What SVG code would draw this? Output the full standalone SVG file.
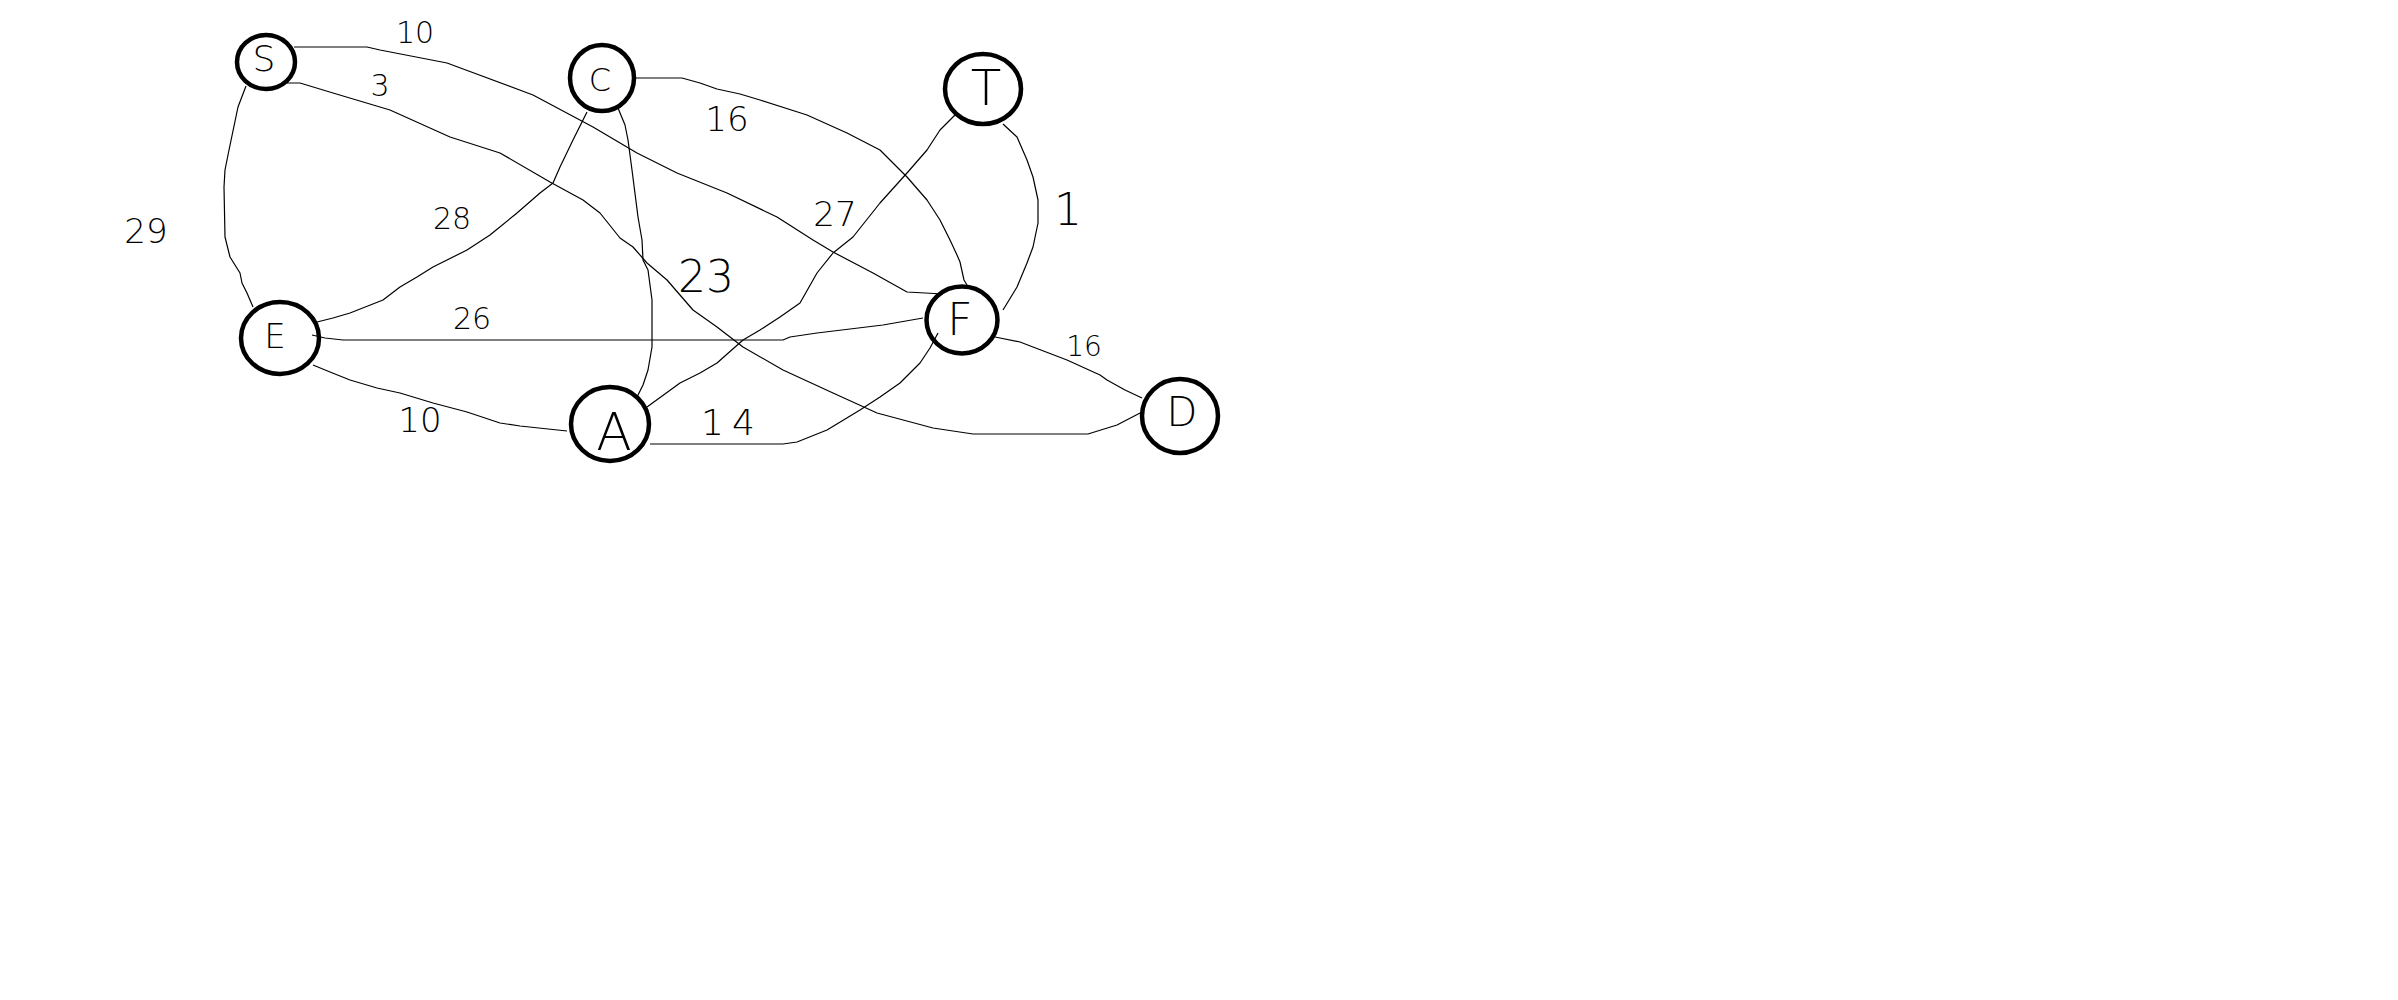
<svg xmlns="http://www.w3.org/2000/svg" width="2398" height="1000" viewBox="0 0 2398 1000">
<style>
.node{fill:none;stroke:#000;stroke-width:4.5}
.edge{fill:none;stroke:#000;stroke-width:1.2;stroke-linejoin:round}
.nl{font-family:"DejaVu Sans","Liberation Sans",sans-serif;font-weight:200;fill:#000;text-anchor:middle;dominant-baseline:central}
.el{font-family:"DejaVu Sans","Liberation Sans",sans-serif;font-weight:200;fill:#000;text-anchor:middle;dominant-baseline:central}
</style>
<rect width="2398" height="1000" fill="#fff"/>
<g id="connectors">
<polyline class="edge" points="294,47 367,47 380,50 447,63 533,95 593,127 637,153 677,173 727,193 777,217 813,240 833,252 873,273 907,292 943,294"/>
<polyline class="edge" points="287,83 300,83 333,93 390,110 450,137 500,153 550,182 583,200 600,213 620,238 633,247 647,263 667,280 693,310 717,327 743,347 783,370 833,393 877,413 933,428 973,434 1088,434 1117,425 1142,412"/>
<polyline class="edge" points="246,86 238,107 229,150 225,170 224,187 225,237 230,257 240,273 242,283 247,293 253,307"/>
<polyline class="edge" points="317,322 333,318 350,313 383,300 400,287 417,277 433,267 467,250 490,235 517,213 540,193 553,183 560,167 573,140 587,112"/>
<polyline class="edge" points="312,335 325,338 343,340 783,340 790,337 817,333 883,325 923,318"/>
<polyline class="edge" points="313,365 330,372 350,380 377,388 400,393 433,403 467,412 500,423 520,426 567,431"/>
<polyline class="edge" points="636,78 682,78 700,83 717,89 740,94 760,100 807,115 847,133 880,150 907,177 927,200 940,220 950,240 957,255 960,262 964,280 967,285"/>
<polyline class="edge" points="618,108 625,125 628,140 632,170 638,217 642,240 643,260 648,270 652,300 652,347 648,370 643,385 637,397"/>
<polyline class="edge" points="957,113 940,130 927,150 907,173 880,203 853,237 833,253 817,273 800,303 780,317 760,330 743,340 717,363 700,373 680,383 647,407"/>
<polyline class="edge" points="1003,124 1017,137 1027,160 1033,177 1038,200 1038,223 1033,247 1027,263 1017,287 1003,310"/>
<polyline class="edge" points="995,337 1020,342 1033,347 1067,360 1100,375 1107,380 1125,390 1142,398"/>
<polyline class="edge" points="938,333 930,348 920,363 900,383 880,397 860,410 827,430 797,442 783,444 650,444"/>
<text class="el" x="415" y="32" font-size="30">10</text>
<text class="el" x="380" y="85" font-size="30">3</text>
<text class="el" x="146" y="231" font-size="34">29</text>
<text class="el" x="452" y="218" font-size="30">28</text>
<text class="el" x="727" y="119" font-size="34">16</text>
<text class="el" x="835" y="214" font-size="34">27</text>
<text class="el" x="1068" y="209" font-size="44">1</text>
<text class="el" x="706" y="276" font-size="44">23</text>
<text class="el" x="472" y="318" font-size="30">26</text>
<text class="el" x="420" y="420" font-size="34">10</text>
<text class="el" x="732" y="422" font-size="36" letter-spacing="8">14</text>
<text class="el" x="1084" y="346" font-size="28">16</text>
</g>
<g id="node-S"><ellipse class="node" cx="266" cy="62" rx="29" ry="27"/><text class="nl" x="264" y="58" font-size="36">S</text></g>
<g id="node-C"><ellipse class="node" cx="602" cy="78" rx="32" ry="33"/><text class="nl" x="600" y="80" font-size="32">C</text></g>
<g id="node-T"><ellipse class="node" cx="983" cy="89" rx="38" ry="35"/><text class="nl" x="986" y="88" font-size="50">T</text></g>
<g id="node-E"><ellipse class="node" cx="280" cy="338" rx="39" ry="36"/><text class="nl" x="275" y="336" font-size="34">E</text></g>
<g id="node-A"><ellipse class="node" cx="610" cy="424" rx="39" ry="37"/><text class="nl" x="614" y="432" font-size="52">A</text></g>
<g id="node-F"><ellipse class="node" cx="962" cy="320" rx="35.5" ry="33.5"/><text class="nl" x="960" y="319" font-size="44">F</text></g>
<g id="node-D"><ellipse class="node" cx="1180" cy="416" rx="38" ry="37"/><text class="nl" x="1182" y="412" font-size="40">D</text></g>
</svg>
